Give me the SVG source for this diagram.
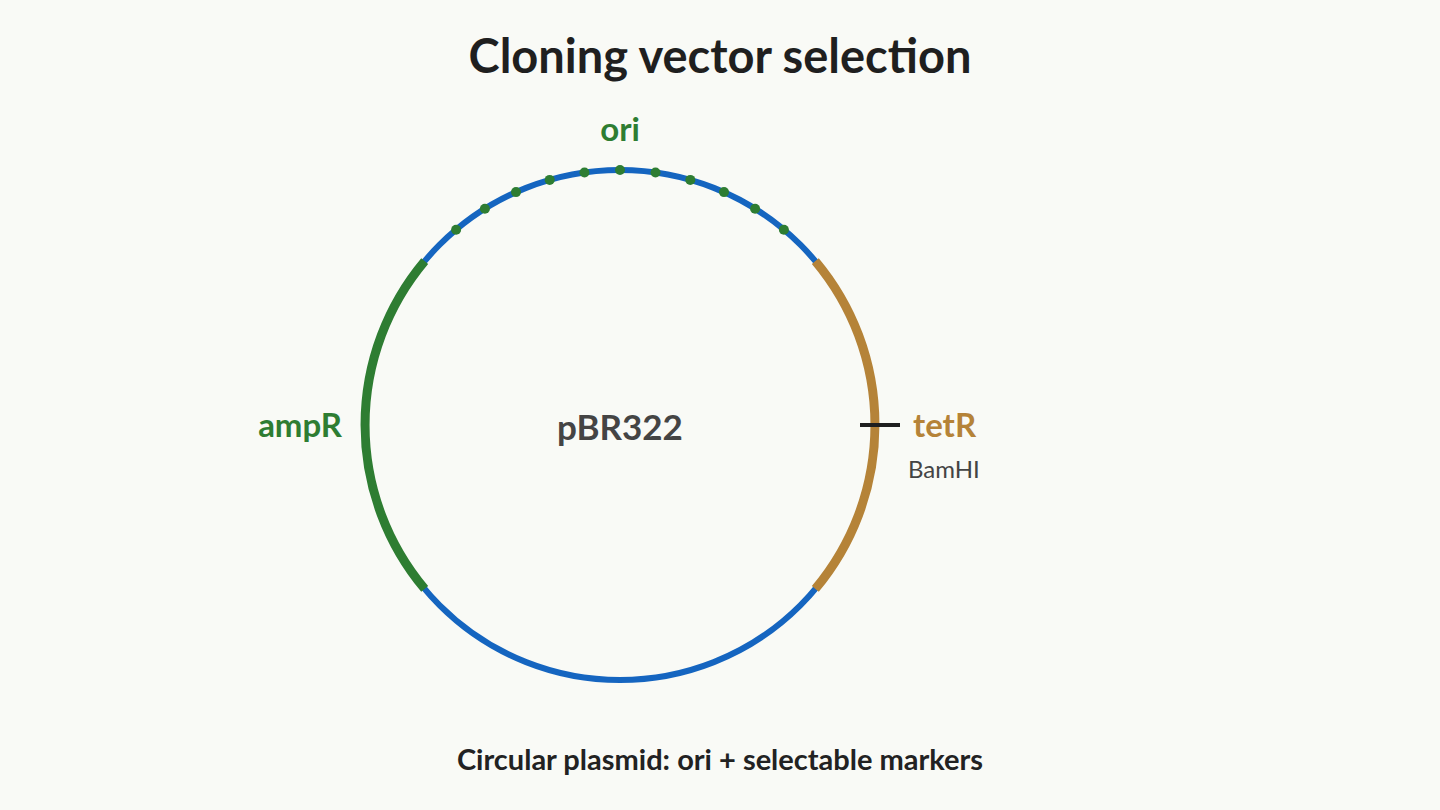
<svg xmlns="http://www.w3.org/2000/svg" width="1440" height="810" viewBox="0 0 1440 810">
<style>
text{font-family:Lato,"Liberation Sans",sans-serif;font-weight:bold}
.g{fill:#2e7d32}
.dot{fill:#2e7d32}
</style>
<rect width="1440" height="810" fill="#f9faf6"/>
<text x="720" y="73" text-anchor="middle" font-size="47" fill="#1f1f1f">Cloning vector selection</text>
<g id="plasmid">
<circle cx="620" cy="425" r="255" fill="none" stroke="#1565c0" stroke-width="6"/>
</g>
<g id="ampR">
<path d="M424.7 261.1 A255 255 0 0 0 424.7 588.9" fill="none" stroke="#2e7d32" stroke-width="9"/>
<text x="342" y="437" text-anchor="end" font-size="33" class="g">ampR</text>
</g>
<g id="tetR">
<path d="M815.3 261.1 A255 255 0 0 1 815.3 588.9" fill="none" stroke="#b58338" stroke-width="9"/>
<text x="913" y="437" font-size="33" fill="#b58338">tetR</text>
</g>
<g id="ori">
<g class="dot">
<circle cx="620" cy="170" r="5"/>
<circle cx="655.5" cy="172.5" r="5"/><circle cx="584.5" cy="172.5" r="5"/>
<circle cx="690.3" cy="179.9" r="5"/><circle cx="549.7" cy="179.9" r="5"/>
<circle cx="724" cy="192.1" r="5"/><circle cx="516" cy="192.1" r="5"/>
<circle cx="755.1" cy="208.8" r="5"/><circle cx="484.9" cy="208.8" r="5"/>
<circle cx="783.9" cy="229.7" r="5"/><circle cx="456.1" cy="229.7" r="5"/>
</g>
<text x="620" y="141" text-anchor="middle" font-size="33" class="g">ori</text>
</g>
<g id="connectors">
<line x1="860" y1="425" x2="900" y2="425" stroke="#1f1f1f" stroke-width="4"/>
</g>
<g id="BamHI">
<text x="908" y="478" font-size="24" style="font-weight:normal" fill="#444">BamHI</text>
</g>
<g id="center">
<text x="620" y="440" text-anchor="middle" font-size="35" fill="#444">pBR322</text>
</g>
<text x="720" y="770" text-anchor="middle" font-size="29" fill="#222">Circular plasmid: ori + selectable markers</text>
</svg>
